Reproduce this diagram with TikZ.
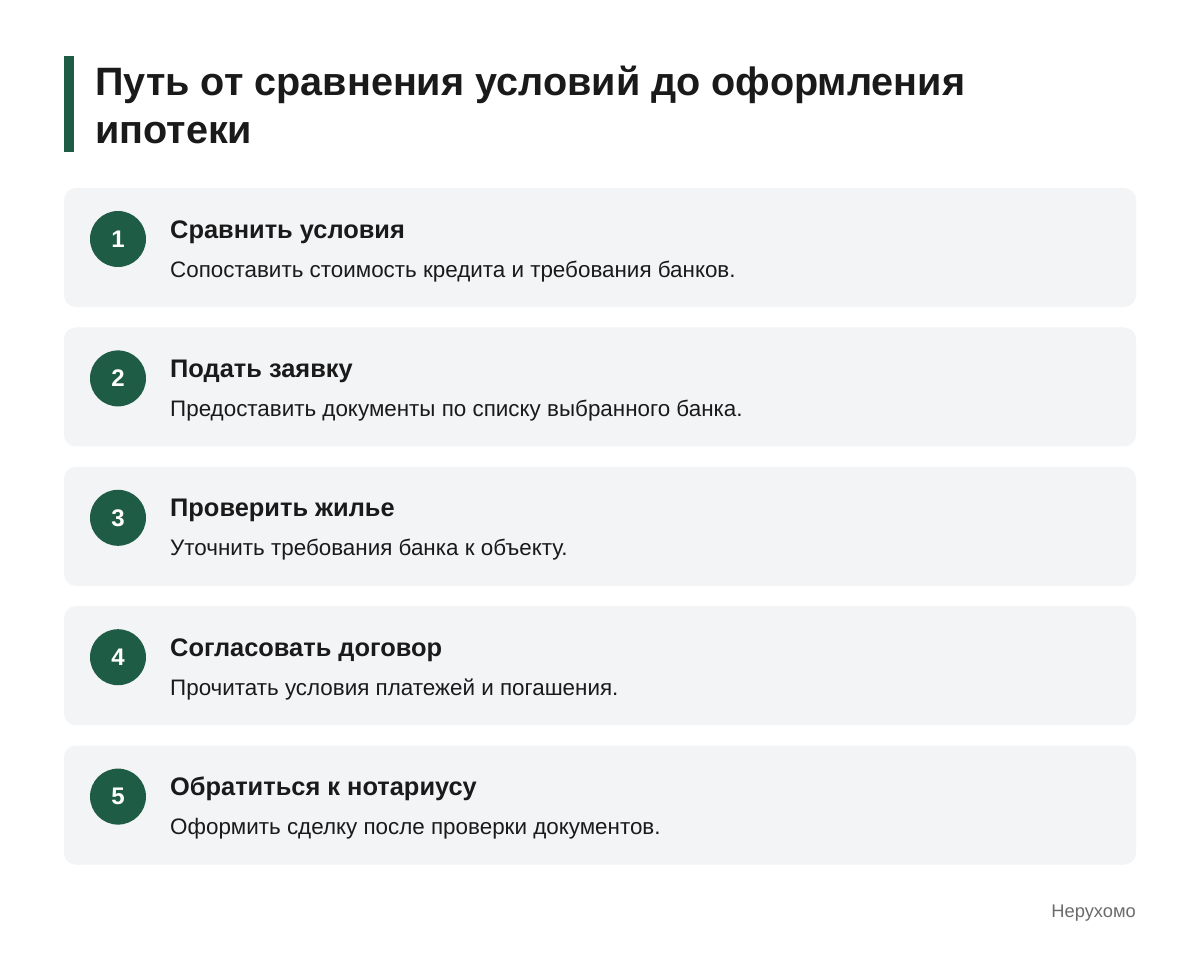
\documentclass[tikz,border=0pt]{standalone}
\usepackage{fontspec}
\setmainfont{Liberation Sans}
\definecolor{accent}{HTML}{1F5C46}
\definecolor{cardbg}{HTML}{F3F4F6}
\definecolor{ink}{HTML}{1A1A1A}
\definecolor{muted}{HTML}{6B6B6B}
\begin{document}
\begin{tikzpicture}[x=1pt,y=-1pt,
  card/.style={fill=cardbg,draw=none,rounded corners=12pt},
  numdot/.style={circle,fill=accent,minimum size=56pt,inner sep=0pt,text=white,font=\fontsize{24}{28}\selectfont\bfseries},
  heading/.style={anchor=base west,inner sep=0pt,text=ink,font=\fontsize{25.4}{30}\selectfont\bfseries},
  desc/.style={anchor=base west,inner sep=0pt,text=ink,font=\fontsize{22.4}{26}\selectfont},
  ]
\useasboundingbox[fill=white] (0,0) rectangle (1200,964);
\fill[accent] (64,56) rectangle (74,152);
\node[anchor=base west,inner sep=0pt,text=ink,font=\fontsize{39.6}{48}\selectfont\bfseries] (t1) at (95,95) {Путь от сравнения условий до оформления};
\node[anchor=base west,inner sep=0pt,text=ink,font=\fontsize{39.6}{48}\selectfont\bfseries] (t2) at (95,143) {ипотеки};
\foreach \i/\h/\d in {0/Сравнить условия/Сопоставить стоимость кредита и требования банков.,
  1/Подать заявку/Предоставить документы по списку выбранного банка.,
  2/Проверить жилье/Уточнить требования банка к объекту.,
  3/Согласовать договор/Прочитать условия платежей и погашения.,
  4/Обратиться к нотариусу/Оформить сделку после проверки документов.}{
  \pgfmathsetmacro{\yy}{188+139.4*\i}
  \fill[card] (64,\yy) rectangle (1136,\yy+119);
  \pgfmathtruncatemacro{\n}{\i+1}
  \node[numdot] (n\n) at (118,\yy+51) {\n};
  \node[heading] (h\n) at (170,\yy+50) {\h};
  \node[desc] (d\n) at (170,\yy+89) {\d};
}
\node[anchor=base east,inner sep=0pt,text=muted,font=\fontsize{18.3}{22}\selectfont] (foot) at (1136,917) {Нерухомо};
\end{tikzpicture}
\end{document}
